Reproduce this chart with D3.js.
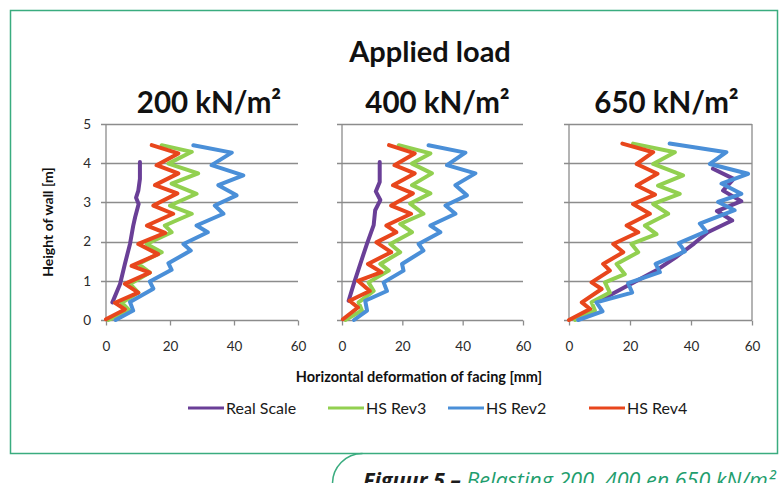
<!DOCTYPE html>
<html><head><meta charset="utf-8">
<script src="https://cdn.jsdelivr.net/npm/d3@7"></script>
<style>body{margin:0;background:#fff}svg{display:block}</style>
</head><body>
<svg id="c" width="783" height="483"></svg>
<script>
// ---- data ----
const chartTitle = "Applied load";
const loads = ["200 kN/m²", "400 kN/m²", "650 kN/m²"];
const seriesNames = ["Real Scale", "HS Rev3", "HS Rev2", "HS Rev4"];
const xTicks = [0, 20, 40, 60];
const yTicks = [0, 1, 2, 3, 4, 5];
const xLabel = "Horizontal deformation of facing [mm]";
const yLabel = "Height of wall [m]";
const captionBold = "Figuur 5 – ";
const captionRest = "Belasting 200, 400 en 650 kN/m²";

// [deformation mm, height m]
const realScale_200 = [[2,0.45],[4.4,0.92],[5.9,1.43],[7.5,1.94],[8.5,2.4],[9.1,2.62],[10.2,2.96],[9.4,3.12],[10.1,3.3],[10.6,3.6],[10.6,4.03]];
const rev3_200 = [[0.7,0],[7.5,0.23],[4.9,0.44],[10.1,0.7],[7.5,0.92],[13.7,1.21],[10.1,1.43],[17.4,1.73],[12.7,1.94],[20.5,2.24],[18.4,2.41],[26.8,2.71],[20,2.92],[28.3,3.22],[20.5,3.48],[28.8,3.74],[19.5,3.99],[26.8,4.29],[17.4,4.46]];
const rev2_200 = [[3,0],[8.5,0.24],[7.5,0.46],[14.8,0.8],[13.7,0.98],[20.5,1.28],[19.5,1.45],[26.5,1.77],[24.2,1.94],[31.8,2.24],[28.3,2.41],[36.7,2.71],[34,2.92],[40.8,3.18],[35.1,3.44],[42.9,3.69],[33,3.95],[39.3,4.27],[27.3,4.46]];
const rev4_200 = [[0,0.02],[5.9,0.27],[2.8,0.44],[10.1,0.7],[5.9,0.92],[13.7,1.21],[8,1.38],[16.3,1.68],[10.1,1.94],[18.5,2.22],[12.8,2.41],[21,2.71],[14.8,2.92],[22.3,3.23],[15.3,3.44],[22.6,3.74],[15.8,3.95],[22.6,4.25],[14.3,4.46]];

const realScale_400 = [[2.2,0.49],[3.9,0.92],[6.1,1.44],[8.3,1.95],[10.5,2.42],[11,2.8],[12.7,3.06],[11.2,3.28],[12.5,3.52],[12.5,4.03]];
const rev3_400 = [[1.1,0],[6.6,0.24],[5.5,0.45],[10.5,0.74],[8.8,0.96],[15.5,1.26],[12.7,1.43],[19.3,1.73],[16,1.94],[23.2,2.24],[19.3,2.45],[27,2.71],[22.6,2.97],[29.3,3.23],[23.2,3.44],[29.8,3.74],[23.2,3.99],[29.3,4.25],[18.8,4.46]];
const rev2_400 = [[4,0],[8.3,0.24],[7.7,0.49],[14.9,0.74],[13.8,0.96],[20.4,1.26],[19.9,1.43],[27,1.77],[25.4,1.94],[32.6,2.24],[29.3,2.41],[37.6,2.71],[34.3,2.92],[41.4,3.18],[37.6,3.44],[44.2,3.74],[34.8,3.95],[40.9,4.27],[28.7,4.46]];
const rev4_400 = [[0.3,0.02],[5.3,0.32],[2.5,0.49],[9.2,0.74],[5.3,1],[13.1,1.22],[8.6,1.43],[16.3,1.73],[11.4,1.98],[18,2.24],[14.7,2.41],[22.9,2.71],[16.3,2.92],[23.5,3.23],[16.9,3.44],[24.1,3.74],[17.4,3.95],[24.1,4.25],[15.6,4.46]];

const realScale_650 = [[9.1,0.45],[19,0.87],[28.5,1.26],[35,1.6],[41,1.95],[45.5,2.24],[53.5,2.54],[48.5,2.78],[56.5,3.03],[50.5,3.3],[54,3.6],[47.2,3.86]];
const rev3_650 = [[2,0],[8.5,0.24],[7.4,0.45],[13.4,0.7],[11.8,0.96],[18.3,1.17],[15.6,1.43],[22.7,1.73],[20.5,1.94],[28.7,2.19],[24.9,2.41],[32.5,2.71],[27.6,2.96],[36.3,3.22],[29.2,3.43],[37.4,3.69],[27.6,3.98],[34.7,4.28],[21,4.5]];
const rev2_650 = [[3,0],[11,0.22],[9,0.45],[20.7,0.7],[19.4,0.94],[29.8,1.22],[28.4,1.43],[38,1.75],[36,1.96],[45,2.26],[42.9,2.46],[54.3,2.8],[48.9,3.01],[56.5,3.22],[50,3.48],[58.7,3.73],[46.2,3.98],[51.6,4.28],[33,4.5]];
const rev4_650 = [[0,0],[6.9,0.28],[4.2,0.45],[10.7,0.79],[7.4,0.96],[13.4,1.26],[11.2,1.43],[17.8,1.73],[14.5,1.94],[22.7,2.24],[18.9,2.41],[26.5,2.71],[21,2.96],[28.2,3.2],[22.2,3.43],[29,3.73],[22.2,3.98],[27.6,4.28],[17.5,4.5]];

const panelSeries = [
  [realScale_200, rev3_200, rev2_200, rev4_200],
  [realScale_400, rev3_400, rev2_400, rev4_400],
  [realScale_650, rev3_650, rev2_650, rev4_650]
];

// ---- styles / layout ----
const colors = ["#6a3f97", "#92d050", "#4a8fd8", "#e8461c"];
const frameGreen = "#3aac7f";
const gridColor = "#8c8c8c";
const font = "Lato, 'Open Sans', sans-serif";
const panelX = [[106, 298], [342, 523], [569, 752]];
const plotTop = 124, plotBottom = 320;

const svg = d3.select("#c");

// frame
svg.append("rect").attr("x", 10.5).attr("y", 10.5).attr("width", 767).attr("height", 443)
  .attr("fill", "none").attr("stroke", frameGreen).attr("stroke-width", 1.5);
svg.append("path").attr("d", "M332.5,490 L332.5,484 A30,30 0 0 1 362.5,453.5")
  .attr("fill", "none").attr("stroke", frameGreen).attr("stroke-width", 1.5);

// titles
svg.append("text").attr("x", 430).attr("y", 62).attr("text-anchor", "middle")
  .attr("font-family", font).attr("font-weight", 700).attr("font-size", 29)
  .attr("fill", "#111").text(chartTitle);

const y = d3.scaleLinear().domain([0, 5]).range([plotBottom, plotTop]);

panelSeries.forEach((series, i) => {
  const x = d3.scaleLinear().domain([0, 60]).range(panelX[i]);
  const g = svg.append("g");
  // subtitle
  g.append("text").attr("x", (panelX[i][0] + panelX[i][1]) / 2 + [7, 5, 6][i]).attr("y", 113)
    .attr("text-anchor", "middle").attr("font-family", font).attr("font-weight", 700)
    .attr("font-size", 29.5).attr("fill", "#111").text(loads[i]);
  // gridlines
  g.selectAll("line.grid").data(yTicks).join("line")
    .attr("x1", x(0) - 5).attr("x2", x(60))
    .attr("y1", d => Math.round(y(d)) + 0.5).attr("y2", d => Math.round(y(d)) + 0.5)
    .attr("stroke", gridColor).attr("stroke-width", 1.3);
  // left axis line
  g.append("line").attr("x1", x(0)).attr("x2", x(0)).attr("y1", y(5)).attr("y2", y(0))
    .attr("stroke", gridColor).attr("stroke-width", 1.3);
  if (i === 2) {
    g.append("line").attr("x1", x(60)).attr("x2", x(60)).attr("y1", y(5)).attr("y2", y(0))
      .attr("stroke", gridColor).attr("stroke-width", 1.3);
  }
  // x axis
  const xa = g.append("g").attr("transform", `translate(0,${Math.round(y(0)) + 0.5})`)
    .call(d3.axisBottom(x).tickValues(xTicks).tickSize(5).tickPadding(16).tickFormat(d3.format("d")));
  xa.select(".domain").remove();
  xa.selectAll(".tick line").attr("stroke", gridColor).attr("stroke-width", 1.3);
  xa.selectAll(".tick text").attr("font-family", font).attr("font-size", 13.5).attr("fill", "#2a2a2a");
  if (i === 0) {
    const ya = g.append("g").attr("transform", `translate(${x(0)},0)`)
      .call(d3.axisLeft(y).tickValues(yTicks).tickSize(0).tickPadding(15).tickFormat(d3.format("d")));
    ya.select(".domain").remove();
    ya.selectAll(".tick text").attr("font-family", font).attr("font-size", 13.5).attr("fill", "#2a2a2a");
  }
  // lines
  const line = d3.line().x(d => x(d[0])).y(d => y(d[1]));
  series.forEach((pts, s) => {
    g.append("path").attr("d", line(pts)).attr("fill", "none")
      .attr("stroke", colors[s]).attr("stroke-width", 4)
      .attr("stroke-linejoin", "round").attr("stroke-linecap", "round");
  });
});

// axis titles
svg.append("text").attr("transform", "translate(53,222) rotate(-90)").attr("text-anchor", "middle")
  .attr("font-family", font).attr("font-weight", 700).attr("font-size", 14).attr("fill", "#111").text(yLabel);
svg.append("text").attr("x", 419).attr("y", 382).attr("text-anchor", "middle")
  .attr("font-family", font).attr("font-weight", 700).attr("font-size", 14.5).attr("fill", "#111").text(xLabel);

// legend
const legendX = [188, 328, 448, 589];
seriesNames.forEach((n, s) => {
  svg.append("line").attr("x1", legendX[s]).attr("x2", legendX[s] + 36).attr("y1", 408).attr("y2", 408)
    .attr("stroke", colors[s]).attr("stroke-width", 3);
  svg.append("text").attr("x", legendX[s] + 38).attr("y", 414)
    .attr("font-family", font).attr("font-size", 16).attr("fill", "#1a1a1a").text(n);
});

// caption (cut off at the bottom edge, as in the reference)
const cap = svg.append("text").attr("x", 363).attr("y", 488).attr("font-family", "'Open Sans', sans-serif")
  .attr("font-style", "italic").attr("font-size", 21.5);
cap.append("tspan").attr("font-weight", 700).attr("fill", "#1c1c1c").text(captionBold);
cap.append("tspan").attr("fill", "#1f9e6e").text(captionRest);
</script>
</body></html>
